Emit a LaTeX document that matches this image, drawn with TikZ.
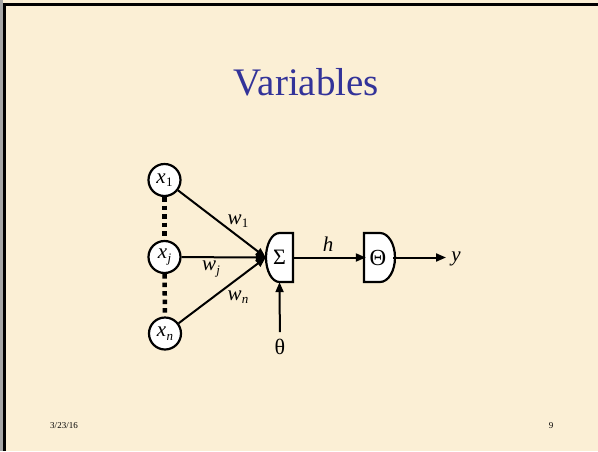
\documentclass[tikz,border=0pt]{standalone}
\usepackage{fontspec}
\setmainfont{Liberation Serif}
\usetikzlibrary{arrows.meta}
\definecolor{parch}{RGB}{251,239,213}
\definecolor{titleblue}{RGB}{51,51,153}
\newcommand{\sbs}[1]{\raisebox{-0.35ex}{\fontsize{13}{13}\selectfont #1}}
\newcommand{\var}[2]{\textit{#1}\kern0.3pt\sbs{#2}}
\begin{document}
\begin{tikzpicture}[x=1pt,y=-1pt,
  inp/.style={circle, draw, line width=2.2pt, fill=white, minimum size=32pt, inner sep=0pt, font=\fontsize{21}{21}\selectfont},
  arr/.style={line width=2pt, -{Triangle[length=10pt,width=8pt]}},
  wire/.style={line width=2.2pt},
  dotline/.style={line width=4.5pt, dash pattern=on 4.5pt off 4pt},
  lbl/.style={font=\fontsize{21}{21}\selectfont, inner sep=1pt},
  gbox/.style={minimum width=27pt, minimum height=49pt, inner sep=0pt, font=\fontsize{22}{22}\selectfont}]
\useasboundingbox (0,0) rectangle (598,451);
\fill[parch] (0,0) rectangle (598,451);
\fill[gray!70] (0,0) rectangle (2.5,451);
\fill[black] (2.5,2.5) rectangle (598,5.5);
\fill[black] (2.5,2.5) rectangle (5.5,451);

\node[font=\fontsize{39}{39}\selectfont, text=titleblue, anchor=base] (title) at (306.5,95) {Variables};

% gate shapes
\draw[wire, fill=white] (293,233) -- (279.5,233) arc[start angle=90,end angle=270,x radius=13.5pt,y radius=24.5pt] -- (293,282) -- cycle;
\draw[wire, fill=white] (364,233) -- (380,233) arc[start angle=90,end angle=-90,x radius=15pt,y radius=24.5pt] -- (364,282) -- cycle;
\node[gbox] (sum) at (279.5,257.5) {Σ};
\node[gbox] (thr) at (379.5,257.5) {};
\node[font=\fontsize{23}{23}\selectfont, inner sep=0pt] (thrt) at (378,257.5) {Θ};

% inputs
\node[inp] (x1) at (164.5,180) {\var{x}{1}};
\node[inp] (xj) at (164.5,257) {\var{x}{\textit{j}}};
\node[inp] (xn) at (165,333.5) {\var{x}{\textit{n}}};
\draw[dotline] (x1.south) -- (xj.north);
\draw[dotline] (xj.south) -- (xn.north);

\draw[arr] (x1) -- (sum.west);
\draw[arr] (xj) -- (sum.west);
\draw[arr] (xn) -- (sum.west);

\node[lbl] (w1) at (238,221) {\var{w}{1}};
\node[lbl] (wj) at (211,269) {\var{w}{\textit{j}}};
\node[lbl] (wn) at (238,297) {\var{w}{\textit{n}}};

\node[lbl] (hl) at (328,244) {\textit{h}};
\node[lbl] (yl) at (456,259) {\textit{y}};
\coordinate (yend) at (446,257.5);
\node[lbl, font=\fontsize{22}{22}\selectfont] (th) at (280,347) {θ};

\draw[arr] (sum.east) -- (thr.west);
\draw[arr] (thr.east) -- (yend);
\draw[arr, shorten <=6pt] (th) -- (sum.south);

\node[font=\fontsize{9}{9}\selectfont, anchor=base] (date) at (64,428) {3/23/16};
\node[font=\fontsize{9}{9}\selectfont, anchor=base] (pg) at (551,428) {9};
\end{tikzpicture}
\end{document}
